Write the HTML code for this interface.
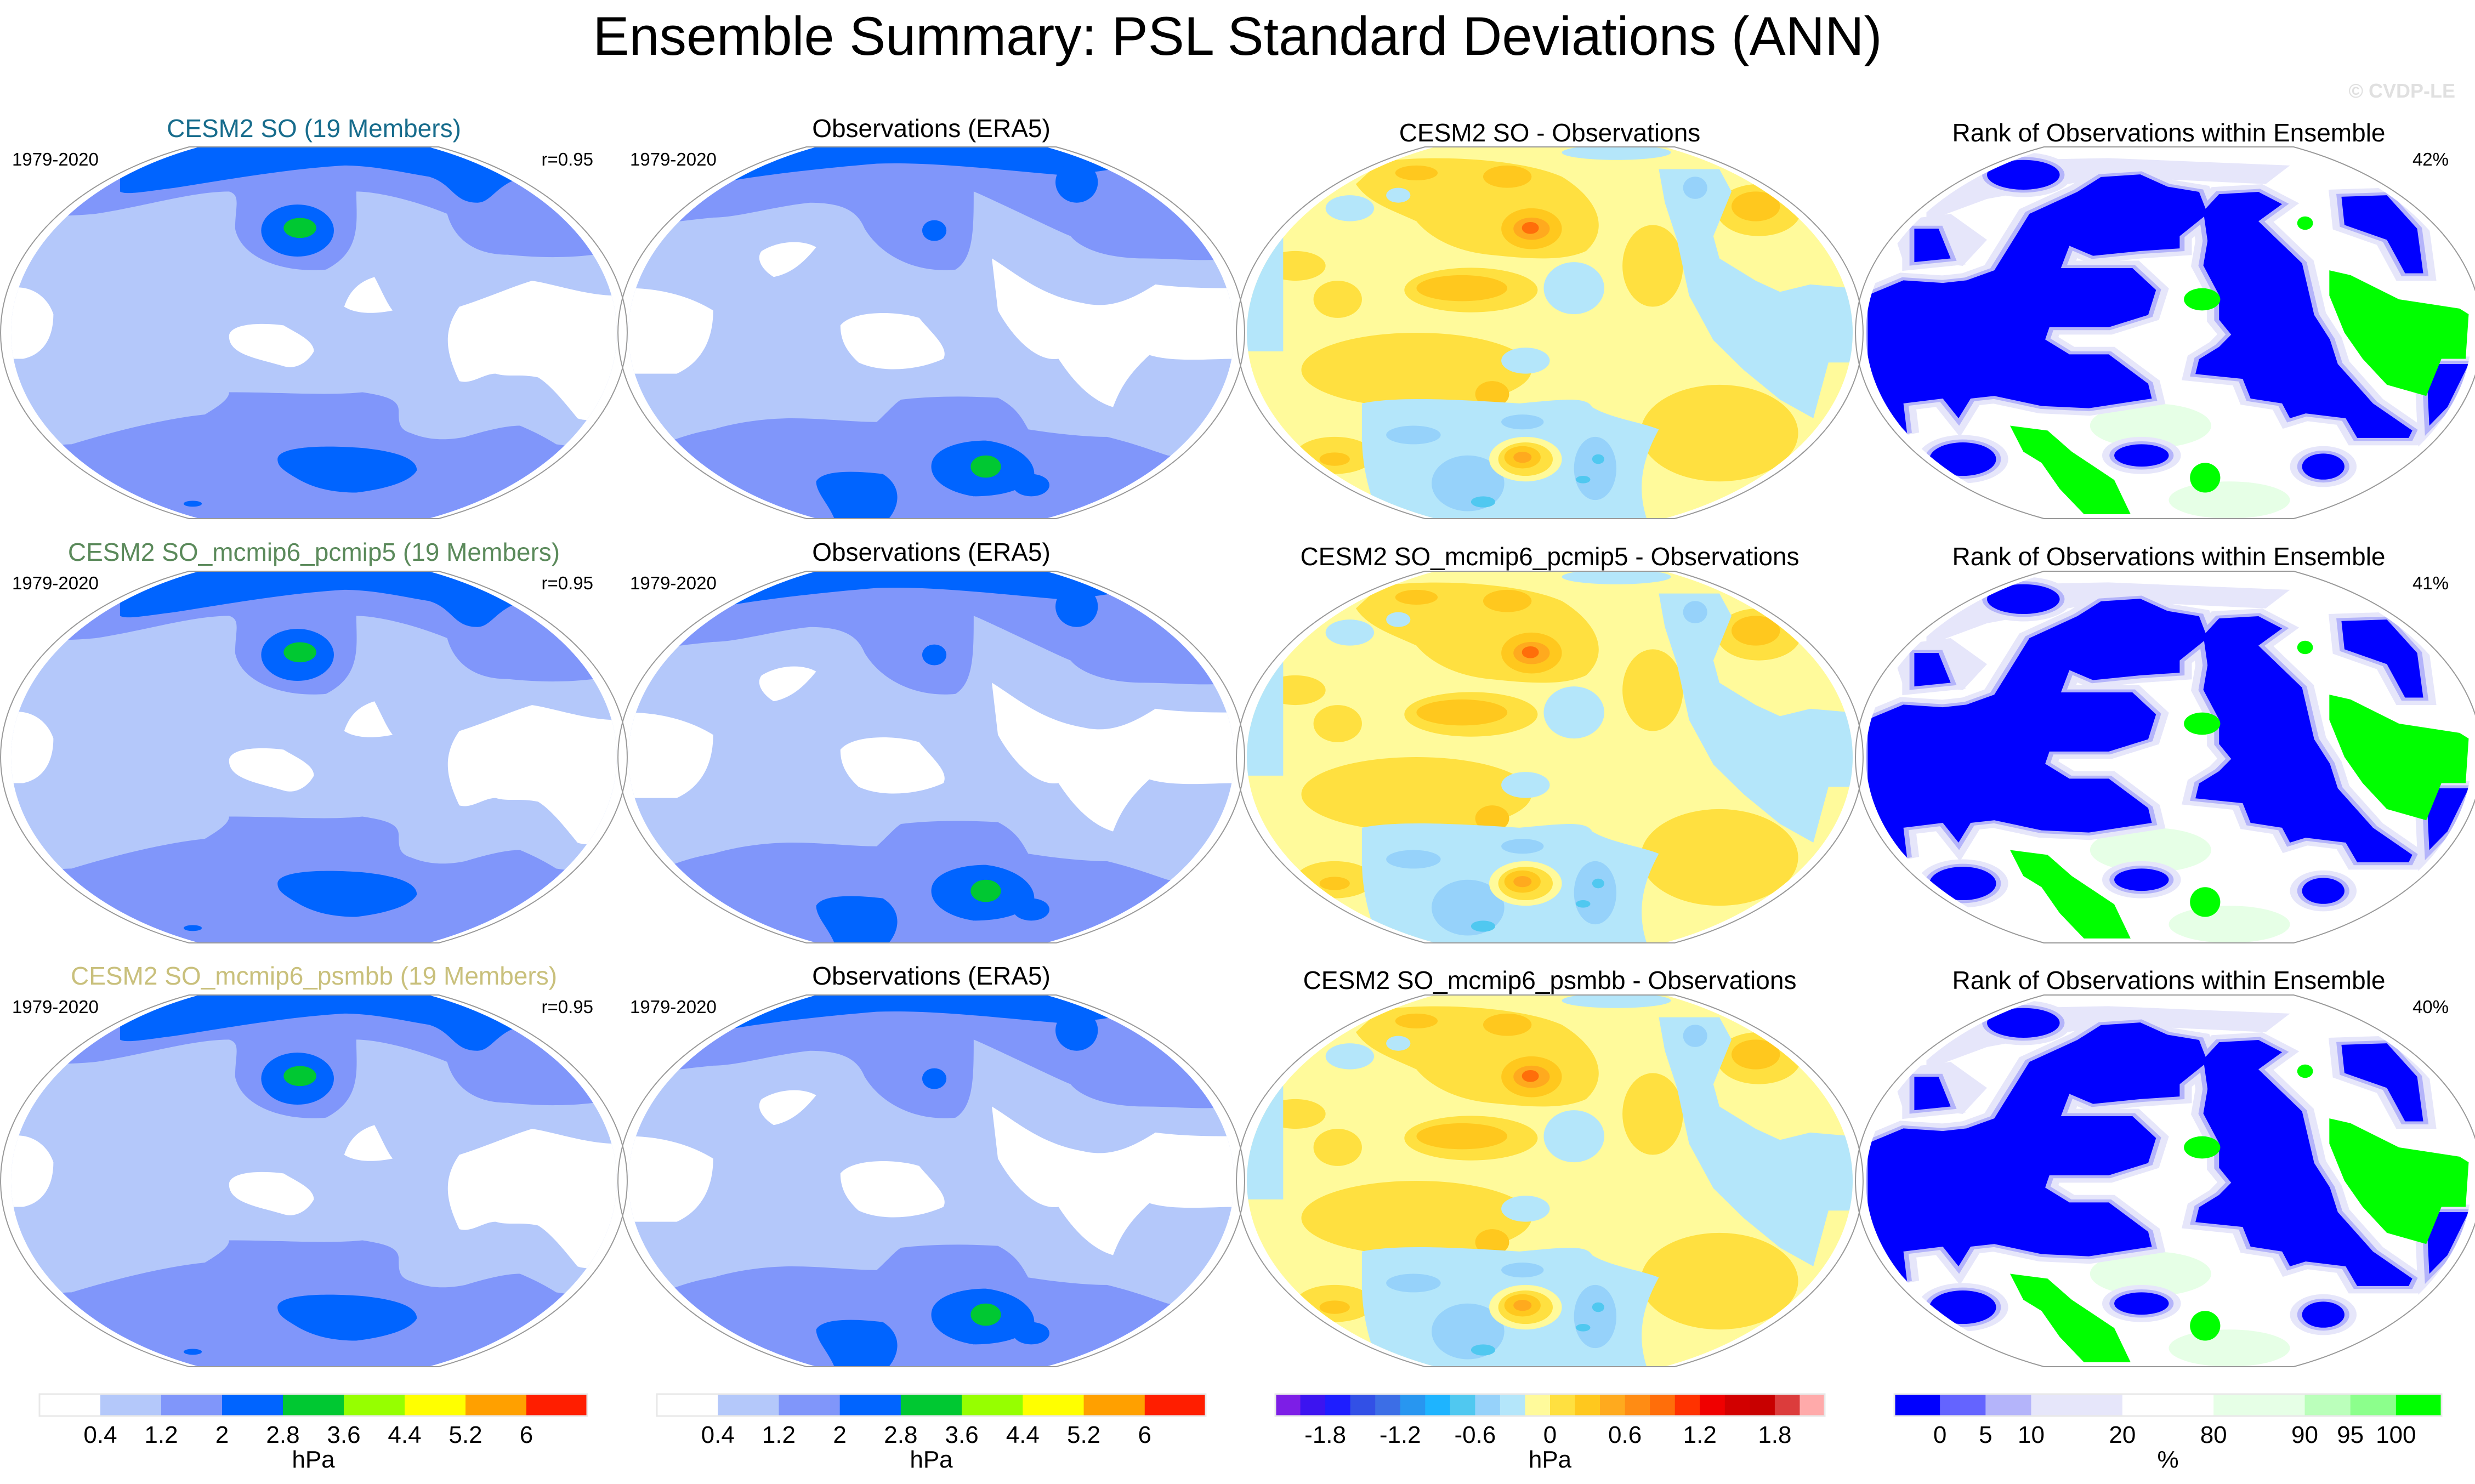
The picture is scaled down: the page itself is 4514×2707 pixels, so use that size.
<!DOCTYPE html>
<html><head><meta charset="utf-8"><style>
html,body{margin:0;padding:0;background:#fff;}
svg{display:block;font-family:"Liberation Sans",sans-serif;}
</style></head><body>
<svg id="fig" width="4514" height="2707" viewBox="0 0 4514 2707" xmlns="http://www.w3.org/2000/svg">
<defs>
<clipPath id="globe"><rect x="0" y="0" width="100" height="100"/></clipPath>
<clipPath id="ell"><ellipse cx="50" cy="50" rx="50" ry="54"/></clipPath>
<g id="m-model">
<rect x="0" y="0" width="100" height="100" fill="#b4c8fa"/>
<path d="M0,0 H100 V28 C94,30 88,30 82,29 C76,29 73,24 72,18 C66,14 60,12 57,12 C57,20 58,28 52,33 C45,34 38,30 37,22 C37,16 38,13 36,12 C30,12 22,16 14,18 C8,19 4,18 0,20 Z" fill="#8096fa"/>
<path d="M18,0 H83 V9 C80,11 79,15 77,15 C73,15 73,10 69,8 C65,7 60,5 55,5 C45,6 35,9 27,11 C22,12 19,13 18,12 Z" fill="#0064ff"/>
<path d="M76,0 H84 V8 C81,7 78,4 76,0 Z" fill="#0064ff"/>
<ellipse cx="47.3" cy="22.5" rx="6" ry="7" fill="#0064ff"/>
<ellipse cx="47.7" cy="21.8" rx="2.7" ry="2.7" fill="#00c832"/>
<path d="M55,43 C56,38 58,36 60,35 C61,38 62,42 63,44 C60,45 57,45 55,43 Z" fill="#fff"/>
<path d="M36,51 C36,48 40,47 45,48 C47,50 50,52 50,55 C49,58 47,60 45,59 C41,57 36,56 36,51 Z" fill="#fff"/>
<path d="M74,43 C78,41 82,38 86,36 C90,37 95,40 100,40 V74 C97,73 95,74 93.5,73 C91,68 89,64 87,62 C84,61 82,62 80,61 C78,61 76,64 74,63 C72,56 71,50 74,43 Z" fill="#fff"/>
<path d="M0,38 C3,37 6,40 7,45 C7,52 5,56 2,57 L0,57 Z" fill="#fff"/>
<path d="M0,82 C4,81 8,80 10,80 C18,76 26,73 32,72 C34,70 36,68 36,66 C45,66 52,67 58,66 C62,67 64,68 64,71 C64,74 64,76 66,77 C69,79 72,79 75,78 C79,76 82,75 84,75 C87,77 89,79 90,80 C94,81 98,81 100,82 V100 H0 Z" fill="#8096fa"/>
<path d="M44,84 C44,81 50,80 58,81 C64,82 67,84 67,87 C66,90 62,92 57,93 C52,93 49,91 47,89 C45,87 44,86 44,84 Z" fill="#0064ff"/>
<ellipse cx="30" cy="96" rx="1.5" ry="0.8" fill="#0064ff"/>
</g>
<g id="m-obs">
<rect x="0" y="0" width="100" height="100" fill="#b4c8fa"/>
<path d="M0,0 H100 V30 C95,31 90,30 85,30 C80,30 75,28 73,24 C70,22 60,14 57,12 C57,22 57,30 54,33 C48,34 42,30 39,22 C38,18 36,15 30,15 C24,16 18,19 14,19 C8,20 4,21 0,22 Z" fill="#8096fa"/>
<path d="M12,0 H80 V6 C76,7 73,7.5 71,7.5 C60,6 50,4 41,4.5 C30,6 20,8 14,10 L12,8 Z" fill="#0064ff"/>
<ellipse cx="74" cy="9.5" rx="3.5" ry="5.5" fill="#0064ff"/>
<ellipse cx="50.5" cy="22.5" rx="2" ry="2.8" fill="#0064ff"/>
<path d="M0,38 C5,38 10,40 14,44 C14,52 12,58 8,61 L0,61 Z" fill="#fff"/>
<path d="M22,28 C25,25 29,25 31,27 C29,31 27,34 24,35 C22,33 21,30 22,28 Z" fill="#fff"/>
<path d="M35,48 C37,44 44,44 48,46 C50,50 53,54 52,57 C48,60 42,61 38,58 C36,55 35,52 35,48 Z" fill="#fff"/>
<path d="M60,30 C64,34 68,40 75,42 C80,44 84,40 87,37 C92,38 96,38 100,38 V57 C96,57 90,58 86,56 C82,62 81,66 80,70 C76,68 73,62 71,57 C67,58 63,50 61,44 Z" fill="#fff"/>
<path d="M0,84 C5,80 10,77 14,76 C18,74 23,73 27,73 C32,73 37,74 41,74 C43,71 44,69 45,68 C50,67 56,67 61,67.5 C64,70 65,73 66,76 C70,77 75,78 79,78 C84,80 87,82 89,83 C94,84 97,84 100,85 V100 H0 Z" fill="#8096fa"/>
<path d="M50,86 C50,81 55,79 59,79 C64,80 67,84 67,88 C66,92 62,94 57,94 C53,93 50,90 50,86 Z" fill="#0064ff"/>
<ellipse cx="59" cy="86" rx="2.5" ry="3" fill="#00c832"/>
<path d="M31,90 C32,87 37,87 42,88 C45,91 45,96 43,100 H34 C33,96 31,93 31,90 Z" fill="#0064ff"/>
<ellipse cx="66.5" cy="91" rx="3" ry="3" fill="#0064ff"/>
</g>
<g id="m-diff">
<rect x="0" y="0" width="100" height="100" fill="#fffa9b"/>
<g fill="#ffe040">
<path d="M22,4 C30,2 45,3 52,8 C58,14 60,22 56,28 C52,31 46,30 40,29 C34,28 30,24 28,20 C24,17 20,15 18,10 Z"/>
<ellipse cx="37" cy="38.5" rx="11" ry="6"/>
<ellipse cx="28" cy="60" rx="19" ry="10"/>
<ellipse cx="84.5" cy="17" rx="7" ry="7"/>
<ellipse cx="67" cy="32" rx="5" ry="11"/>
<ellipse cx="78" cy="77" rx="13" ry="13"/>
<ellipse cx="14.5" cy="83" rx="6.5" ry="5"/>
<ellipse cx="15" cy="41" rx="4" ry="5"/>
<ellipse cx="8" cy="32" rx="5" ry="4"/>
</g>
<g fill="#ffc81e">
<ellipse cx="47" cy="22" rx="5" ry="5.5"/>
<ellipse cx="35.5" cy="38" rx="7.5" ry="3.5"/>
<ellipse cx="40.5" cy="66.5" rx="2.8" ry="3.5"/>
<ellipse cx="43" cy="8" rx="4" ry="3"/>
<ellipse cx="28" cy="7" rx="3.5" ry="2"/>
<ellipse cx="84" cy="16" rx="4" ry="4"/>
<ellipse cx="14.5" cy="84" rx="2.5" ry="1.8"/>
</g>
<ellipse cx="47" cy="22" rx="3" ry="3" fill="#ffaa1e"/>
<ellipse cx="46.8" cy="21.8" rx="1.4" ry="1.6" fill="#ff6e0a"/>
<path d="M68,6 L78,6 L80,12 L77,24 L78,30 L84,36 L88,39 L93,37 L100,38 V58 L96,58 L93.5,73 L88,68 L82,60 L77,52 L73,40 L71,25 L69,15 Z" fill="#b4e6fa"/>
<ellipse cx="74" cy="11" rx="2" ry="3" fill="#96d2fa"/>
<ellipse cx="61" cy="1.5" rx="9" ry="2" fill="#b4e6fa"/>
<ellipse cx="54" cy="38" rx="5" ry="7" fill="#b4e6fa"/>
<ellipse cx="46" cy="57.5" rx="4" ry="3.5" fill="#b4e6fa"/>
<ellipse cx="17" cy="16.5" rx="4" ry="3.5" fill="#b4e6fa"/>
<ellipse cx="25" cy="13" rx="2" ry="2" fill="#b4e6fa"/>
<path d="M0,25 L6,24 L6,55 L0,55 Z" fill="#b4e6fa"/>
<path d="M19,69 C25,67 35,68 45,69 C52,68 56,67 57,70 C60,73 65,74 68,76 C66,82 64,90 66,100 H22 C20,93 19,85 19,78 Z" fill="#b4e6fa"/>
<g fill="#96d2fa">
<ellipse cx="27.5" cy="77.5" rx="4.5" ry="2.5"/>
<ellipse cx="45.5" cy="74" rx="3.5" ry="2"/>
<ellipse cx="36.5" cy="90.5" rx="6" ry="7.5"/>
<ellipse cx="57.5" cy="86.5" rx="3.5" ry="8.5"/>
</g>
<ellipse cx="39" cy="95.5" rx="2" ry="1.5" fill="#50c8f0"/>
<ellipse cx="58" cy="84" rx="1" ry="1.3" fill="#50c8f0"/>
<ellipse cx="55.5" cy="89.5" rx="1.2" ry="1" fill="#50c8f0"/>
<ellipse cx="46" cy="84" rx="6" ry="6" fill="#fffa9b"/>
<ellipse cx="46" cy="84" rx="4.5" ry="4.5" fill="#ffe040"/>
<ellipse cx="45.5" cy="83.5" rx="3" ry="3" fill="#ffc81e"/>
<ellipse cx="45.5" cy="83.5" rx="1.5" ry="1.5" fill="#ffaa1e"/>
</g>
<g id="m-rank">
<rect x="0" y="0" width="100" height="100" fill="#fff"/>
<ellipse cx="47" cy="75" rx="10" ry="6" fill="#e6ffe6"/>
<ellipse cx="60" cy="95" rx="10" ry="5" fill="#e6ffe6"/>
<path d="M10,4 L40,3 L70,5 L66,10 L40,8 L20,14 L10,20 Z" fill="#e6e6fa"/>
<path d="M4,20 L14,18 L20,25 L16,32 L6,30 Z" fill="#e6e6fa"/>
<g id="rk-blue">
<path d="M0.3,39.9 L6.2,35.9 L12.7,36.6 L16.6,35.9 L21.2,33.2 L27,18 L34.9,12.1 L38.8,8.1 L45.3,7.4 L49.8,10.7 L55,12.1 L56.4,18 L51.8,24 L51.8,27.3 L45.3,28 L37.5,29.3 L33.6,26.6 L32.2,32.6 L44,32.6 L47.9,38.5 L46.6,45.2 L40.1,48.5 L30.3,48.5 L29.6,51.8 L33.6,55.8 L40.1,55.8 L46.6,63.7 L47.2,67.7 L36.8,70.3 L29,69.7 L21.2,67 L17.3,67.7 L15.3,73 L12.7,67.7 L6.2,69 L6.8,77 L3.6,71.6 L0.3,58.4 Z"/>
<path d="M55.7,17.3 L58.3,12.7 L64.8,12.1 L68.7,15.4 L64.8,20 L72,31.3 L74,45.2 L76.6,51.8 L77.9,58.4 L83.7,69 L90.2,76.3 L89.6,78.3 L81.1,78.3 L79.2,73 L72.6,71.7 L70,73 L68.7,69 L63.5,67.7 L62.2,62.4 L54.4,61.1 L55,57.1 L58.3,53.8 L60.3,50.5 L58.3,46.5 L58.3,39.9 L55.7,31.9 L56.4,25.3 Z"/>
<ellipse cx="26" cy="7.5" rx="6" ry="4"/>
<path d="M78.5,13.4 L86,13 L91,22 L92,34 L89,34 L86,25 L79,21 Z"/>
<ellipse cx="16" cy="84" rx="5.5" ry="4.5"/>
<ellipse cx="45.5" cy="83" rx="4.5" ry="3"/>
<ellipse cx="75.5" cy="86" rx="3.5" ry="3.5"/>
<path d="M92.5,58.4 L99.5,58.4 L96,70 L93,75 Z"/>
<path d="M8,22 L12,22 L14,30 L8,31 Z"/>
</g>
<use href="#rk-blue" fill="#e6e6fa" stroke="#e6e6fa" stroke-width="4"/>
<use href="#rk-blue" fill="#b4b4fa" stroke="#b4b4fa" stroke-width="1.6"/>
<use href="#rk-blue" fill="#0000ff"/>
<g fill="#00ff00">
<path d="M76.5,33.2 L80,34.5 L88,41 L98,43.5 L99.5,45 L99,57 L95,57 L92.5,67 L86,64 L82,57 L79,50 L76.5,40 Z"/>
<path d="M23.8,75 L30,76.3 L34,82 L41,89.6 L43.7,98.8 L36,98.8 L32,92 L29,85 L26,82 Z"/>
<ellipse cx="55.5" cy="41" rx="3" ry="3"/>
<ellipse cx="56" cy="89" rx="2.5" ry="4"/>
<ellipse cx="72.5" cy="20.5" rx="1.3" ry="1.8"/>
</g>
</g>
</defs>
<text x="2257" y="100" font-size="99" text-anchor="middle" fill="#000">Ensemble Summary: PSL Standard Deviations (ANN)</text>
<text x="4478" y="178" font-size="36" font-weight="bold" text-anchor="end" fill="#e0e0e0">© CVDP-LE</text>
<g id="maps"></g>
<g id="cbars"></g>
</svg>
<script>
const NS = "http://www.w3.org/2000/svg";
const mapsG = document.getElementById('maps');
const cbG = document.getElementById('cbars');
const colLefts = [20, 1146, 2274, 3403];
const rowTops = [268, 1042, 1815];
const mapW = 1105, mapH = 678;
const rowTitles = ["CESM2 SO (19 Members)", "CESM2 SO_mcmip6_pcmip5 (19 Members)", "CESM2 SO_mcmip6_psmbb (19 Members)"];
const rowColors = ["#176c8c", "#5b8a5b", "#c9c07c"];
const diffTitles = ["CESM2 SO - Observations", "CESM2 SO_mcmip6_pcmip5 - Observations", "CESM2 SO_mcmip6_psmbb - Observations"];
const rankPct = ["42%", "41%", "40%"];
const corrVals = ["r=0.95", "r=0.95", "r=0.95"];
const panelKinds = ["m-model", "m-obs", "m-diff", "m-rank"];

function txt(parent, x, y, s, size, anchor, fill){
  const t = document.createElementNS(NS, 'text');
  t.setAttribute('x', x); t.setAttribute('y', y);
  t.setAttribute('font-size', size);
  t.setAttribute('text-anchor', anchor);
  t.setAttribute('fill', fill);
  t.textContent = s;
  parent.appendChild(t);
  return t;
}

for (let r = 0; r < 3; r++) {
  for (let c = 0; c < 4; c++) {
    const g = document.createElementNS(NS, 'g');
    
    
    const x0 = colLefts[c], y0 = rowTops[r];
    const inner = document.createElementNS(NS, 'g');
    inner.setAttribute('transform', `translate(${x0},${y0}) scale(${mapW/100},${mapH/100})`);
    const clipG = document.createElementNS(NS, 'g');
    clipG.setAttribute('clip-path', 'url(#ell)');
    const clip2 = document.createElementNS(NS, 'g');
    clip2.setAttribute('clip-path', 'url(#globe)');
    const u = document.createElementNS(NS, 'use');
    u.setAttribute('href', '#' + panelKinds[c]);
    clip2.appendChild(u); clipG.appendChild(clip2); inner.appendChild(clipG);
    const outline = document.createElementNS(NS, 'path');
    outline.setAttribute('d', 'M29.4,0 H70.6 A50,54 0 0 1 70.6,100 H29.4 A50,54 0 0 1 29.4,0 Z');
    outline.setAttribute('fill', 'none');
    outline.setAttribute('stroke', '#999');
    outline.setAttribute('stroke-width', '2');
    outline.setAttribute('vector-effect', 'non-scaling-stroke');
    inner.appendChild(outline);
    g.appendChild(inner);
    mapsG.appendChild(g);
    const cx = x0 + mapW / 2;
    const dy = r * 773;
    if (c === 0) {
      const t = txt(g, cx, 250 + dy, rowTitles[r], 46, 'middle', rowColors[r]);
       
      const a = txt(g, 22, 302 + dy, '1979-2020', 33, 'start', '#000');
       
      const b = txt(g, 1082, 302 + dy, corrVals[r], 33, 'end', '#000');
       
    } else if (c === 1) {
      const t = txt(g, cx, 250 + dy, 'Observations (ERA5)', 46, 'middle', '#000');
       
      const a = txt(g, 1149, 302 + dy, '1979-2020', 33, 'start', '#000');
       
    } else if (c === 2) {
      const t = txt(g, cx, 258 + dy, diffTitles[r], 46, 'middle', '#000');
       
    } else {
      const t = txt(g, cx, 258 + dy, 'Rank of Observations within Ensemble', 46, 'middle', '#000');
       
      const p = txt(g, 4466, 302 + dy, rankPct[r], 33, 'end', '#000');
       
    }
  }
}

// Colorbar data
const sdColors = ["#ffffff","#b4c8fa","#8096fa","#0064ff","#00c832","#96ff00","#ffff00","#ffa000","#ff1e00"];
const sdLabels = ["0.4","1.2","2","2.8","3.6","4.4","5.2","6"];
const diffColors = ["#7d1ee6","#3c14f0","#1e1eff","#3250e6","#3c6ee6","#2896f0","#1eb4ff","#50c8f0","#96d2fa","#b4e6fa","#fffa9b","#ffe040","#ffc81e","#ffaa1e","#ff8c14","#ff6e0a","#ff3200","#f00000","#d20000","#c80000","#dc3c3c","#ffaaaa"];
const diffLabels = ["-1.8","-1.2","-0.6","0","0.6","1.2","1.8"];
const diffLabelIdx = [2,5,8,11,14,17,20];
const rankColors = ["#0000ff","#6464ff","#b4b4fa","#e6e6fa","#ffffff","#e6ffe6","#bbffbb","#8cff8c","#00ff00"];
const rankWidths = [1,1,1,2,2,2,1,1,1];
const rankLabels = ["0","5","10","20","80","90","95","100"];

const bars = [
  {x:72, w:999, colors:sdColors, widths:null, labels:sdLabels, idx:[1,2,3,4,5,6,7,8], unit:"hPa"},
  {x:1198, w:1001, colors:sdColors, widths:null, labels:sdLabels, idx:[1,2,3,4,5,6,7,8], unit:"hPa"},
  {x:2326, w:1002, colors:diffColors, widths:null, labels:diffLabels, idx:diffLabelIdx, unit:"hPa"},
  {x:3455, w:998, colors:rankColors, widths:rankWidths, labels:rankLabels, idx:[1,2,3,4,5,6,7,8], unit:"%"}
];
const barY = 2543, barH = 40;
bars.forEach(b => {
  const g = document.createElementNS(NS, 'g');
  
  
  const widths = b.widths || b.colors.map(() => 1);
  const tot = widths.reduce((a, v) => a + v, 0);
  const edges = [0];
  widths.forEach(v => edges.push(edges[edges.length - 1] + v));
  const xs = e => b.x + b.w * e / tot;
  b.colors.forEach((col, i) => {
    const rc = document.createElementNS(NS, 'rect');
    
    
    rc.setAttribute('x', xs(edges[i])); rc.setAttribute('y', barY);
    rc.setAttribute('width', xs(edges[i+1]) - xs(edges[i]) + 0.5);
    rc.setAttribute('height', barH);
    rc.setAttribute('fill', col);
    g.appendChild(rc);
  });
  const fr = document.createElementNS(NS, 'rect');
  fr.setAttribute('x', b.x); fr.setAttribute('y', barY);
  fr.setAttribute('width', b.w); fr.setAttribute('height', barH);
  fr.setAttribute('fill', 'none'); fr.setAttribute('stroke', '#e8e8e8'); fr.setAttribute('stroke-width', '3');
  g.appendChild(fr);
  b.labels.forEach((lab, i) => {
    const t = txt(g, xs(edges[b.idx[i]]), 2632, lab, 44, 'middle', '#000');
    
    
  });
  const u = txt(g, b.x + b.w / 2, 2677, b.unit, 44, 'middle', '#000');
  
  
  cbG.appendChild(g);
});
</script>
</body></html>
